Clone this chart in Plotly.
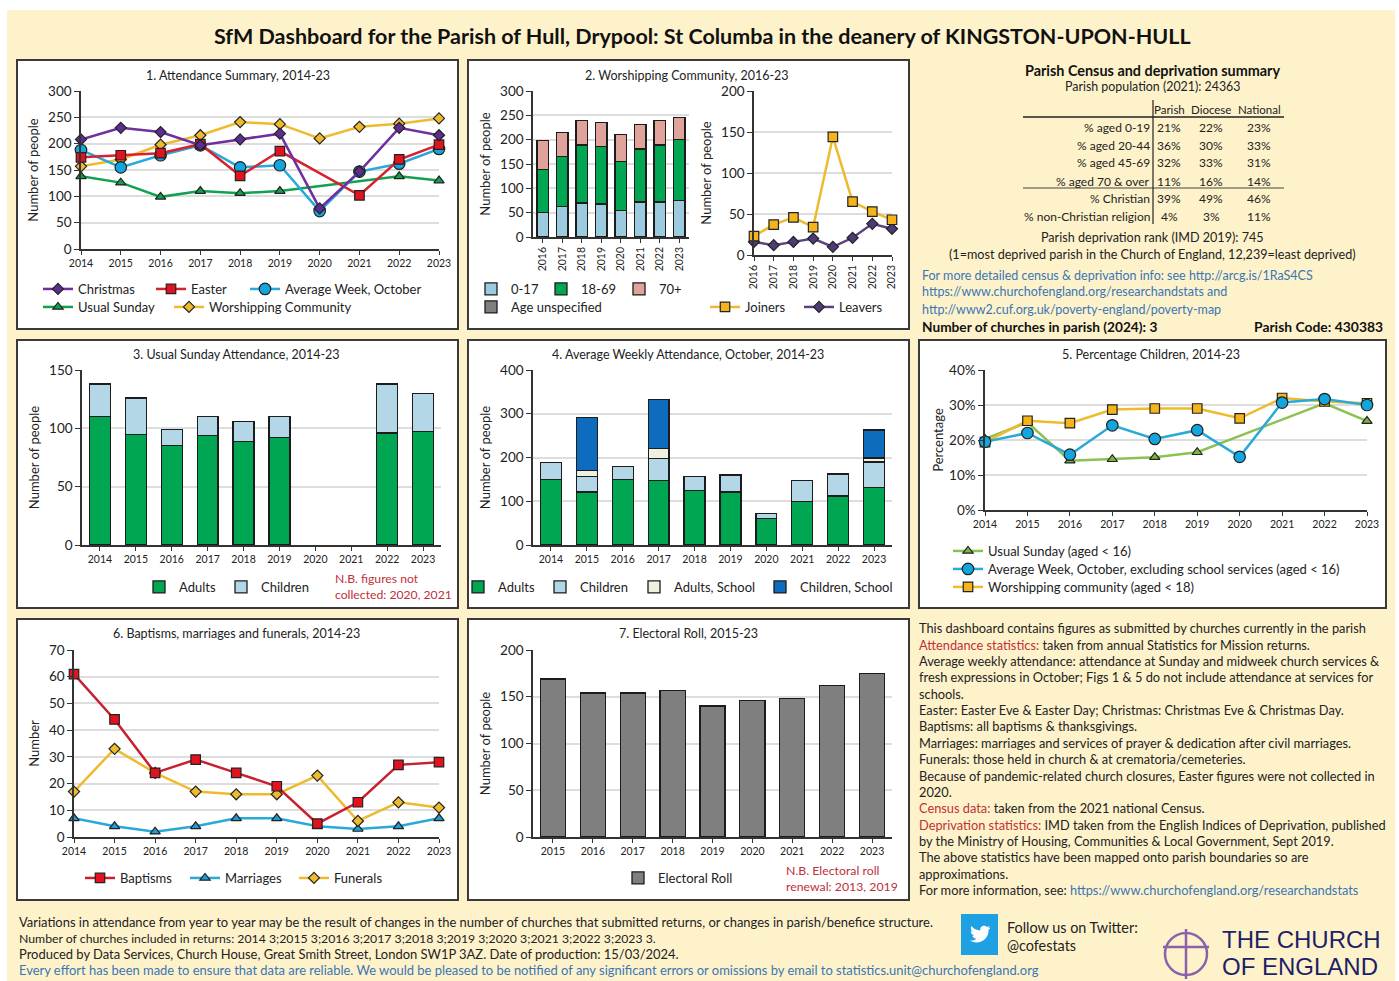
import plotly.graph_objects as go

W, H = 1399, 981
FONT = "Lato"
INK = "#222222"
GRID = "#DDDDDD"
AXIS = "#333333"
RED_TXT = "#C0303A"
BLUE_TXT = "#3A76B4"

# ---------------- data ----------------
years = [2014, 2015, 2016, 2017, 2018, 2019, 2020, 2021, 2022, 2023]
years16 = [2016, 2017, 2018, 2019, 2020, 2021, 2022, 2023]
years15 = [2015, 2016, 2017, 2018, 2019, 2020, 2021, 2022, 2023]

christmas = [208, 230, 222, 197, 208, 219, 77, 147, 230, 216]
easter = [174, 178, 182, 199, 139, 186, None, 102, 170, 198]
average_week = [188, 155, 178, 197, 155, 159, 72, 147, 162, 190]
usual_sunday = [138, 126, 99, 110, 106, 110, None, None, 138, 130]
worshipping = [157, 170, 198, 216, 241, 237, 210, 232, 238, 248]

wc_0_17 = [50, 62, 70, 68, 55, 72, 72, 75]
wc_18_69 = [88, 104, 119, 118, 100, 109, 117, 125]
wc_70 = [60, 49, 50, 49, 55, 50, 50, 46]
wc_unspec = [0, 0, 0, 0, 0, 0, 0, 0]
joiners = [23, 37, 46, 34, 144, 65, 53, 43]
leavers = [16, 12, 16, 20, 10, 21, 38, 32]

us_adults = [110, 95, 85, 94, 89, 92, None, None, 96, 97]
us_children = [28, 31, 14, 16, 17, 18, None, None, 42, 33]

aw_adults = [150, 121, 150, 147, 124, 121, 60, 100, 112, 132]
aw_children = [39, 35, 30, 50, 32, 39, 12, 47, 50, 58]
aw_adults_school = [0, 15, 0, 23, 0, 0, 0, 0, 0, 9]
aw_children_school = [0, 121, 0, 112, 0, 0, 0, 0, 0, 64]

pc_usual = [20.3, 25, 14.1, 14.5, 15.1, 16.5, None, None, 30.5, 25.4]
pc_average = [19.5, 22, 15.8, 24.2, 20.3, 22.8, 15.2, 30.7, 31.7, 30]
pc_worship = [19.4, 25.5, 24.8, 28.7, 29, 29, 26.2, 32, 31, 30.5]

baptisms = [61, 44, 24, 29, 24, 19, 5, 13, 27, 28]
marriages = [7, 4, 2, 4, 7, 7, 4, 3, 4, 7]
funerals = [17, 33, 24, 17, 16, 16, 23, 6, 13, 11]

electoral_roll = [169, 154, 154, 157, 140, 146, 148, 162, 175]

census_rows = ["% aged 0-19", "% aged 20-44", "% aged 45-69", "% aged 70 & over", "% Christian", "% non-Christian religion"]
census_parish = ["21%", "36%", "32%", "11%", "39%", "4%"]
census_diocese = ["22%", "30%", "33%", "16%", "49%", "3%"]
census_national = ["23%", "33%", "31%", "14%", "46%", "11%"]

notes = [
    "This dashboard contains figures as submitted by churches currently in the parish",
    f"<span style='color:{RED_TXT}'>Attendance statistics:</span> taken from annual Statistics for Mission returns.",
    "Average weekly attendance: attendance at Sunday and midweek church services &amp;",
    "fresh expressions in October; Figs 1 &amp; 5 do not include attendance at services for",
    "schools.",
    "Easter: Easter Eve &amp; Easter Day; Christmas: Christmas Eve &amp; Christmas Day.",
    "Baptisms: all baptisms &amp; thanksgivings.",
    "Marriages: marriages and services of prayer &amp; dedication after civil marriages.",
    "Funerals: those held in church &amp; at crematoria/cemeteries.",
    "Because of pandemic-related church closures, Easter figures were not collected in",
    "2020.",
    f"<span style='color:{RED_TXT}'>Census data:</span> taken from the 2021 national Census.",
    f"<span style='color:{RED_TXT}'>Deprivation statistics:</span> IMD taken from the English Indices of Deprivation, published",
    "by the Ministry of Housing, Communities &amp; Local Government, Sept 2019.",
    "The above statistics have been mapped onto parish boundaries so are",
    "approximations.",
    f"For more information, see: <span style='color:{BLUE_TXT}'>https://www.churchofengland.org/researchandstats</span>",
]
notes_y = [628, 645, 661, 677, 694, 710, 726, 743, 759, 776, 792, 808, 825, 841, 857, 874, 890]

footer = [
    "Variations in attendance from year to year may be the result of changes in the number of churches that submitted returns, or changes in parish/benefice structure.",
    "Number of churches included in returns: 2014 3;2015 3;2016 3;2017 3;2018 3;2019 3;2020 3;2021 3;2022 3;2023 3.",
    "Produced by Data Services, Church House, Great Smith Street, London SW1P 3AZ. Date of production: 15/03/2024.",
    f"<span style='color:{BLUE_TXT}'>Every effort has been made to ensure that data are reliable. We would be pleased to be notified of any significant errors or omissions by email to statistics.unit@churchofengland.org</span>",
]
footer_y = [922, 938, 954, 970]
footer_size = [12.95, 12.25, 12.95, 12.95]

# ---------------- helpers ----------------
fig = go.Figure()
layout = dict(
    width=W, height=H, autosize=False,
    margin=dict(l=0, r=0, t=0, b=0, pad=0, autoexpand=False),
    paper_bgcolor="white", plot_bgcolor="rgba(0,0,0,0)",
    font=dict(family=FONT, color=INK, size=12),
    barmode="stack", showlegend=True, hovermode=False,
)
shapes, annots = [], []
px = lambda x: x / W
py = lambda y: 1 - y / H
axis_n = 0
legend_n = 0


def rect(x0, y0, x1, y1, fill, line=None, lw=0):
    shapes.append(dict(type="rect", xref="paper", yref="paper", layer="below",
                       x0=px(x0), x1=px(x1), y0=py(y0), y1=py(y1), fillcolor=fill,
                       line=dict(color=line or fill, width=lw)))


def hline(x0, y0, x1, y1, color=AXIS, lw=1.5):
    shapes.append(dict(type="line", xref="paper", yref="paper", layer="below",
                       x0=px(x0), x1=px(x1), y0=py(y0), y1=py(y1), line=dict(color=color, width=lw)))


def txt(x, y, s, size=12.5, color=INK, anchor="left", bold=False, family=FONT):
    annots.append(dict(xref="paper", yref="paper", x=px(x), y=py(y), xanchor=anchor, yanchor="middle",
                       text=f"<b>{s}</b>" if bold else s, showarrow=False, align=anchor,
                       font=dict(family=family, size=size, color=color), borderpad=0, borderwidth=0))


def axes(x0, x1, ytop, ybot, yr, ytick, ytitle, xr=None, xticks=None, standoff=6, xangle=0,
         ysize=13.5, xsize=10.5, ysuffix=""):
    global axis_n
    axis_n += 1
    n = axis_n
    sx = "" if n == 1 else str(n)
    xkw = dict(domain=[px(x0), px(x1)], anchor=f"y{sx}", showgrid=False, zeroline=False,
               showline=True, linecolor=AXIS, linewidth=1.5, ticks="outside", ticklen=4, tickwidth=1.2,
               tickcolor=AXIS, tickfont=dict(size=xsize, color=INK), fixedrange=True, tickangle=xangle)
    if xr is not None:
        xkw.update(type="linear", range=xr, tickmode="array", tickvals=xticks, ticktext=[str(v) for v in xticks])
    else:
        labels = [str(v) for v in xticks]
        xkw.update(type="category", tickmode="array", tickvals=labels, ticktext=labels,
                   categoryorder="array", categoryarray=labels)
    ykw = dict(domain=[py(ybot), py(ytop)], anchor=f"x{sx}", range=yr, dtick=ytick, tick0=0,
               showgrid=True, gridcolor=GRID, gridwidth=1.5, zeroline=False, showline=True,
               linecolor=AXIS, linewidth=1.5, ticks="outside", ticklen=5, tickwidth=1.2, tickcolor=AXIS,
               tickfont=dict(size=ysize, color=INK), ticksuffix=ysuffix, fixedrange=True,
               title=dict(text=ytitle, font=dict(size=13, color=INK), standoff=standoff))
    layout[f"xaxis{sx}"] = xkw
    layout[f"yaxis{sx}"] = ykw
    return f"x{sx}", f"y{sx}"


def legend_for(x, y, size=13):
    """One legend entry placed at pixel position; x is where the text should start."""
    global legend_n
    legend_n += 1
    key = "legend" if legend_n == 1 else f"legend{legend_n}"
    layout[key] = dict(x=px(x - 40), y=py(y), xanchor="left", yanchor="middle", bgcolor="rgba(0,0,0,0)",
                       borderwidth=0, font=dict(family=FONT, size=size, color=INK), itemsizing="trace",
                       orientation="v", tracegroupgap=0, itemclick=False, itemdoubleclick=False)
    return key


SYM_SIZE = {"diamond": 8.5, "square": 9.5, "circle": 11.5, "triangle-up": 9}


def line(xa, ya, x, y, name, color, symbol, fill=None, lw=2.5, leg=(0, 0), legsize=13):
    fig.add_trace(go.Scatter(
        x=x, y=y, name=name, mode="lines+markers", xaxis=xa, yaxis=ya, connectgaps=True, cliponaxis=False,
        line=dict(color=color, width=lw),
        marker=dict(symbol=symbol, size=SYM_SIZE[symbol], color=fill or color, line=dict(color="#222222", width=1.2)),
        legend=legend_for(*leg, size=legsize)))


def bar(xa, ya, x, y, name, color, leg=(0, 0), width=0.58, lcol="#1c1c1c", legsize=13):
    fig.add_trace(go.Bar(
        x=[str(v) for v in x], y=y, name=name, xaxis=xa, yaxis=ya, width=width,
        marker=dict(color=color, line=dict(color=lcol, width=1.3)),
        legend=legend_for(*leg, size=legsize)))


# ---------------- background and frames ----------------
rect(7, 10, 1395, 981, "#FEF2CB")
for fx0, fy0, fx1, fy1 in [(17, 60, 458, 329), (468, 60, 909, 329), (17, 340, 458, 608), (468, 340, 909, 608),
                           (919, 340, 1386, 608), (17, 619, 458, 900), (468, 619, 909, 900)]:
    rect(fx0, fy0, fx1, fy1, "white", "#3A3A3A", 2)

txt(702, 36, "SfM Dashboard for the Parish of Hull, Drypool: St Columba in the deanery of KINGSTON-UPON-HULL",
    size=21.5, color="#111111", anchor="center", bold=True)

# ---------------- panel 1 ----------------
txt(238, 75, "1. Attendance Summary, 2014-23", 12.5, anchor="center")
xa, ya = axes(81, 439, 91, 249, [0, 300], 50, "Number of people", xr=[2014, 2023], xticks=years)
line(xa, ya, years, worshipping, "Worshipping Community", "#EEBB2E", "diamond", leg=(209, 307))
line(xa, ya, years, usual_sunday, "Usual Sunday", "#12A150", "triangle-up", leg=(78, 307))
line(xa, ya, years, average_week, "Average Week, October", "#29A9D8", "circle", fill="#12A5DE", leg=(285, 289))
line(xa, ya, years, easter, "Easter", "#D8202E", "square", fill="#E3121F", leg=(191, 289))
line(xa, ya, years, christmas, "Christmas", "#6F2F9E", "diamond", fill="#5E2D91", leg=(78, 289))

# ---------------- panel 2 ----------------
txt(687, 75, "2. Worshipping Community, 2016-23", 12.5, anchor="center")
xa, ya = axes(533, 689, 91, 237, [0, 300], 50, "Number of people", xticks=years16, xangle=-90, xsize=10.5)
bar(xa, ya, years16, wc_0_17, "0-17", "#9CCBE0", leg=(511, 289))
bar(xa, ya, years16, wc_18_69, "18-69", "#00A651", leg=(581, 289))
bar(xa, ya, years16, wc_70, "70+", "#E0A39C", leg=(659, 289))
bar(xa, ya, years16, wc_unspec, "Age unspecified", "#7F7F7F", leg=(511, 307))
xa, ya = axes(754, 892, 91, 255, [0, 200], 50, "Number of people", xr=[2016, 2023], xticks=years16, xangle=-90, xsize=10.5)
line(xa, ya, years16, leavers, "Leavers", "#5A4480", "diamond", fill="#4F3A78", leg=(839, 307))
line(xa, ya, years16, joiners, "Joiners", "#EEBB2E", "square", fill="#F4B41A", leg=(745, 307))

# ---------------- census block ----------------
txt(1152, 71, "Parish Census and deprivation summary", 14.4, color="#111111", anchor="center", bold=True)
txt(1152, 87, "Parish population (2021): 24363", 12.4, anchor="center")
txt(1169, 110, "Parish", 11.5, anchor="center")
txt(1211, 110, "Diocese", 11.5, anchor="center")
txt(1259, 110, "National", 11.5, anchor="center")
census_y = [128, 146, 163, 181, 198, 216]
for i, yy in enumerate(census_y):
    txt(1150, yy, census_rows[i], 12, anchor="right")
    txt(1169, yy, census_parish[i], 12, anchor="center")
    txt(1211, yy, census_diocese[i], 12, anchor="center")
    txt(1259, yy, census_national[i], 12, anchor="center")
hline(1023, 117, 1284, 117, "#222222", 1.5)
hline(1023, 188, 1284, 188, "#444444", 1.2)
hline(1153, 100, 1153, 224, "#222222", 1.2)
txt(1152, 237, "Parish deprivation rank (IMD 2019): 745", 12.6, anchor="center")
txt(1152, 254, "(1=most deprived parish in the Church of England, 12,239=least deprived)", 12.6, anchor="center")
txt(922, 276, "For more detailed census &amp; deprivation info: see http://arcg.is/1RaS4CS", 12.5, color=BLUE_TXT)
txt(922, 292, "https://www.churchofengland.org/researchandstats and", 12.5, color=BLUE_TXT)
txt(922, 309, "http://www2.cuf.org.uk/poverty-england/poverty-map", 12.5, color=BLUE_TXT)
txt(922, 327, "Number of churches in parish (2024): 3", 13.7, color="#111111", bold=True)
txt(1383, 327, "Parish Code: 430383", 13.9, color="#111111", anchor="right", bold=True)

# ---------------- panel 3 ----------------
txt(237, 354, "3. Usual Sunday Attendance, 2014-23", 12.5, anchor="center")
xa, ya = axes(82, 441, 370, 545, [0, 150], 50, "Number of people", xticks=years)
bar(xa, ya, years, us_adults, "Adults", "#00A651", leg=(179, 587))
bar(xa, ya, years, us_children, "Children", "#B3D7E6", leg=(261, 587))
txt(335, 578, "N.B. figures not", 12.2, color=RED_TXT)
txt(335, 594, "collected: 2020, 2021", 12.2, color=RED_TXT)

# ---------------- panel 4 ----------------
txt(688, 354, "4. Average Weekly Attendance, October, 2014-23", 12.5, anchor="center")
xa, ya = axes(533, 892, 370, 545, [0, 400], 100, "Number of people", xticks=years)
bar(xa, ya, years, aw_adults, "Adults", "#00A651", leg=(498, 587))
bar(xa, ya, years, aw_children, "Children", "#B3D7E6", leg=(580, 587))
bar(xa, ya, years, aw_adults_school, "Adults, School", "#EEF0E0", leg=(674, 587))
bar(xa, ya, years, aw_children_school, "Children, School", "#0D6CBE", leg=(800, 587))

# ---------------- panel 5 ----------------
txt(1151, 354, "5. Percentage Children, 2014-23", 12.5, anchor="center")
xa, ya = axes(985, 1367, 370, 510, [0, 40], 10, "Percentage", xr=[2014, 2023], xticks=years, ysuffix="%", standoff=3)
line(xa, ya, years, pc_usual, "Usual Sunday (aged &lt; 16)", "#8CC152", "triangle-up", fill="#7CB342", leg=(988, 551))
line(xa, ya, years, pc_worship, "Worshipping community (aged &lt; 18)", "#EEBB2E", "square", fill="#F4B41A", leg=(988, 587))
line(xa, ya, years, pc_average, "Average Week, October, excluding school services (aged &lt; 16)", "#29A9D8", "circle", fill="#12A5DE", leg=(988, 569))

# ---------------- panel 6 ----------------
txt(237, 633, "6. Baptisms, marriages and funerals, 2014-23", 12.5, anchor="center")
xa, ya = axes(74, 439, 650, 837, [0, 70], 10, "Number", xr=[2014, 2023], xticks=years)
line(xa, ya, years, marriages, "Marriages", "#29A9D8", "triangle-up", fill="#1F9CD4", leg=(225, 878))
line(xa, ya, years, funerals, "Funerals", "#EEBB2E", "diamond", leg=(334, 878))
line(xa, ya, years, baptisms, "Baptisms", "#C8202E", "square", fill="#E3121F", leg=(120, 878))

# ---------------- panel 7 ----------------
txt(688, 633, "7. Electoral Roll, 2015-23", 12.5, anchor="center")
xa, ya = axes(533, 892, 650, 837, [0, 200], 50, "Number of people", xticks=years15)
bar(xa, ya, years15, electoral_roll, "Electoral Roll", "#7F7F7F", leg=(658, 878), width=0.63)
txt(786, 870, "N.B. Electoral roll", 12.3, color=RED_TXT)
txt(786, 886, "renewal: 2013, 2019", 12.3, color=RED_TXT)

# ---------------- notes and footer ----------------
for yy, s in zip(notes_y, notes):
    txt(919, yy, s, 12.8)
for yy, s, fs in zip(footer_y, footer, footer_size):
    txt(19, yy, s, fs)

# twitter badge
rect(961, 914, 998, 955, "#1DA1E2")


def bird(ox, oy, k):
    pts = [("M", 22, 2.6), ("C", 21.2, 3, 20.4, 3.2, 19.5, 3.3), ("C", 20.4, 2.8, 21, 2, 21.3, 1.1),
           ("C", 20.5, 1.6, 19.6, 1.9, 18.6, 2.1), ("C", 17.8, 1.3, 16.7, .8, 15.5, .8),
           ("C", 13.1, .8, 11.3, 3, 11.8, 5.4), ("C", 8.2, 5.2, 5, 3.5, 2.9, .9),
           ("C", 1.8, 2.9, 2.3, 5.4, 4.3, 6.7), ("C", 3.6, 6.7, 2.9, 6.5, 2.3, 6.2),
           ("C", 2.3, 8.3, 3.8, 10.2, 5.8, 10.6), ("C", 5.2, 10.8, 4.5, 10.8, 3.9, 10.7),
           ("C", 4.4, 12.4, 6, 13.6, 7.9, 13.7), ("C", 6.1, 15.1, 3.8, 15.8, 1.5, 15.5),
           ("C", 3.4, 16.7, 5.7, 17.4, 8.1, 17.4), ("C", 15.9, 17.4, 20.4, 10.8, 20, 4.9),
           ("C", 20.8, 4.3, 21.5, 3.5, 22, 2.6)]
    out = []
    for p in pts:
        coords = p[1:]
        xy = " ".join(f"{px(ox + k * coords[i]):.5f},{py(oy + k * coords[i + 1]):.5f}" for i in range(0, len(coords), 2))
        out.append(f"{p[0]} {xy}")
    return " ".join(out) + " Z"


shapes.append(dict(type="path", xref="paper", yref="paper", layer="below", path=bird(968.5, 925, 1.0),
                   fillcolor="white", line=dict(width=0)))
txt(1007, 927, "Follow us on Twitter:", 14.4)
txt(1007, 945, "@cofestats", 14.4)

# church logo
LOGO = "#8A62AC"
shapes.append(dict(type="circle", xref="paper", yref="paper", layer="below", x0=px(1165), x1=px(1207), y0=py(933),
                   y1=py(975), line=dict(color=LOGO, width=2.5), fillcolor="rgba(0,0,0,0)"))
hline(1186, 929, 1186, 979, LOGO, 2.5)
hline(1163, 947, 1209, 947, LOGO, 2.5)
txt(1222, 939, "THE CHURCH", 24, color="#1F1F66", family="Liberation Sans")
txt(1222, 966.5, "OF ENGLAND", 24, color="#1F1F66", family="Liberation Sans")

layout["shapes"] = shapes
layout["annotations"] = annots
fig.update_layout(**layout)
fig.write_html("out.html", config=dict(displayModeBar=False, responsive=False),
               post_script="document.body.style.margin='0';document.body.style.overflow='hidden';")
